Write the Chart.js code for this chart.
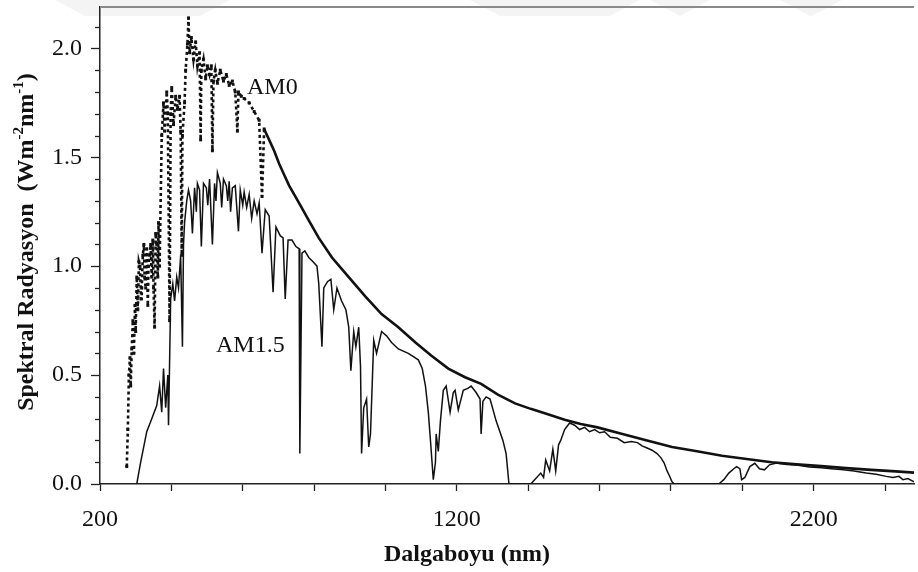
<!DOCTYPE html>
<html>
<head>
<meta charset="utf-8">
<script src="https://cdn.jsdelivr.net/npm/chart.js@4.4.1/dist/chart.umd.min.js"></script>
<style>
  html, body { margin: 0; padding: 0; background: #fff; }
  #wrap { position: relative; width: 918px; height: 572px; }
</style>
</head>
<body>
<div id="wrap"><canvas id="c"></canvas></div>
<script>
// Extraterrestrial spectrum (AM0): wavelength (nm) and spectral irradiance (W m-2 nm-1)
const am0Wavelength = [
  275, 278, 281, 284, 286, 289, 292, 295, 298, 300, 303, 306, 309, 312, 315, 317, 320, 323, 325, 328,
  331, 334, 336, 339, 342, 345, 348, 350, 353, 356, 359, 362, 364, 367, 373, 378, 381, 387, 390, 395,
  398, 401, 406, 412, 417, 423, 426, 429, 431, 437, 440, 445, 448, 451, 456, 462, 468, 473, 479, 482,
  484, 490, 496, 501, 507, 512, 515, 518, 523, 529, 537, 546, 554, 562, 571, 579, 585, 588, 596, 604,
  618, 632, 646, 654, 660, 674, 688, 702, 716, 730, 744, 758, 785, 813, 850, 897, 944, 989, 1036, 1084,
  1128, 1176, 1223, 1268, 1315, 1363, 1407, 1455, 1502, 1547, 1594, 1664, 1733, 1803, 1873, 1943, 2012, 2082, 2152, 2221,
  2291, 2361, 2430, 2481
];
const am0Irradiance = [
  0.08, 0.25, 0.50, 0.58, 0.45, 0.62, 0.75, 0.60, 0.82, 0.70, 0.95, 0.80, 1.02, 1.00, 0.85, 0.90, 1.05, 1.10, 0.95, 0.90,
  1.08, 0.82, 1.00, 1.05, 1.10, 0.95, 1.12, 0.90, 0.72, 1.15, 1.10, 0.95, 1.20, 1.00, 1.60, 1.75, 1.62, 1.80, 1.70, 0.75,
  1.70, 1.82, 1.65, 1.78, 1.72, 1.78, 1.62, 1.05, 1.60, 1.75, 1.90, 2.02, 2.14, 1.98, 2.05, 1.95, 2.03, 1.92, 1.98, 1.58,
  1.90, 1.95, 1.86, 1.92, 1.88, 1.92, 1.53, 1.85, 1.90, 1.84, 1.90, 1.85, 1.88, 1.83, 1.85, 1.80, 1.62, 1.80, 1.78, 1.77,
  1.75, 1.71, 1.67, 1.32, 1.63, 1.58, 1.53, 1.47, 1.42, 1.37, 1.33, 1.29, 1.21, 1.13, 1.04, 0.95, 0.86, 0.78, 0.72, 0.65,
  0.59, 0.53, 0.49, 0.46, 0.41, 0.37, 0.345, 0.32, 0.295, 0.275, 0.26, 0.23, 0.20, 0.17, 0.15, 0.13, 0.115, 0.10, 0.09, 0.082,
  0.073, 0.065, 0.058, 0.052
];

// Terrestrial spectrum (AM1.5): wavelength (nm) and spectral irradiance (W m-2 nm-1)
const am15Wavelength = [
  303, 314, 331, 345, 359, 367, 373, 378, 384, 390, 392, 398, 404, 409, 415, 420, 426, 431, 434, 437,
  443, 448, 454, 459, 465, 470, 473, 479, 484, 490, 498, 502, 507, 515, 521, 525, 529, 537, 541, 546,
  554, 558, 562, 566, 571, 579, 588, 593, 600, 604, 611, 618, 625, 632, 640, 646, 654, 663, 674, 685,
  693, 705, 713, 719, 727, 738, 749, 758, 760, 766, 774, 785, 797, 808, 813, 822, 827, 838, 847, 855,
  864, 877, 889, 897, 903, 911, 917, 925, 930, 933, 939, 947, 953, 958, 967, 975, 989, 1003, 1017, 1036,
  1064, 1092, 1103, 1112, 1120, 1126, 1134, 1140, 1142, 1148, 1154, 1162, 1170, 1181, 1190, 1195, 1204, 1218, 1232, 1240,
  1254, 1265, 1268, 1273, 1282, 1293, 1310, 1329, 1338, 1346, 1407, 1418, 1435, 1443, 1449, 1460, 1469, 1477, 1485, 1491,
  1502, 1516, 1530, 1544, 1558, 1572, 1586, 1600, 1614, 1630, 1650, 1669, 1689, 1706, 1719, 1733, 1747, 1761, 1772, 1781,
  1789, 1795, 1803, 1809, 1934, 1948, 1962, 1976, 1984, 1993, 1998, 2007, 2021, 2035, 2048, 2062, 2076, 2096, 2124, 2152,
  2188, 2221, 2249, 2283, 2313, 2347, 2375, 2403, 2422, 2439, 2450, 2464, 2481
];
const am15Irradiance = [
  0.00, 0.10, 0.24, 0.30, 0.36, 0.45, 0.33, 0.53, 0.35, 0.50, 0.27, 0.85, 0.92, 0.84, 0.95, 0.90, 1.05, 0.63, 1.10, 1.20,
  1.30, 1.35, 1.30, 1.15, 1.36, 1.25, 1.38, 1.35, 1.09, 1.38, 1.36, 1.28, 1.40, 1.10, 1.38, 1.30, 1.43, 1.38, 1.27, 1.40,
  1.37, 1.30, 1.39, 1.25, 1.36, 1.37, 1.16, 1.35, 1.28, 1.34, 1.27, 1.33, 1.22, 1.30, 1.24, 1.29, 1.06, 1.26, 1.23, 0.88,
  1.18, 1.14, 1.13, 0.85, 1.12, 1.12, 1.09, 1.08, 0.14, 1.06, 1.07, 1.04, 1.02, 1.00, 0.92, 0.63, 0.90, 0.93, 0.94, 0.80,
  0.90, 0.84, 0.80, 0.72, 0.52, 0.70, 0.63, 0.72, 0.54, 0.14, 0.35, 0.39, 0.17, 0.23, 0.66, 0.60, 0.70, 0.68, 0.65, 0.62,
  0.60, 0.57, 0.53, 0.45, 0.33, 0.20, 0.02, 0.10, 0.23, 0.15, 0.29, 0.43, 0.45, 0.33, 0.42, 0.43, 0.34, 0.43, 0.44, 0.45,
  0.42, 0.39, 0.23, 0.38, 0.40, 0.39, 0.29, 0.20, 0.14, 0.00, 0.00, 0.02, 0.05, 0.03, 0.11, 0.06, 0.16, 0.06, 0.18, 0.20,
  0.25, 0.28, 0.27, 0.25, 0.26, 0.24, 0.25, 0.235, 0.24, 0.215, 0.21, 0.19, 0.195, 0.19, 0.175, 0.165, 0.155, 0.14, 0.12, 0.096,
  0.06, 0.04, 0.01, 0.00, 0.00, 0.02, 0.05, 0.07, 0.08, 0.07, 0.02, 0.03, 0.08, 0.095, 0.07, 0.065, 0.088, 0.096, 0.09, 0.087,
  0.078, 0.075, 0.07, 0.065, 0.06, 0.05, 0.045, 0.035, 0.03, 0.035, 0.02, 0.025, 0.01
];

// Axis settings and labels
const xLabelledTicks = [200, 1200, 2200];
const seriesNames = ['AM0', 'AM1.5'];
const xTitle = 'Dalgaboyu (nm)';
const yTitleParts = [
  { text: 'Spektral Radyasyon  (Wm', sup: false },
  { text: '-2', sup: true },
  { text: 'nm', sup: false },
  { text: '-1', sup: true },
  { text: ')', sup: false }
];

const ink = '#111';
const serif = '"Liberation Serif", "Times New Roman", serif';
const dottedUntil = 670; // short-wavelength part of AM0 drawn as a dotted trace

const toPoints = (xs, ys) => xs.map((x, i) => ({ x, y: ys[i] }));

const decorPlugin = {
  id: 'decor',
  beforeDraw(chart) {
    const { ctx } = chart;
    ctx.save();
    ctx.fillStyle = '#fff';
    ctx.fillRect(0, 0, chart.width, chart.height);
    // faint slanted header bands
    ctx.fillStyle = 'rgba(0,0,0,0.045)';
    [[55, 230], [470, 640], [650, 710], [780, 842]].forEach(([a, b]) => {
      ctx.beginPath();
      ctx.moveTo(a, 0); ctx.lineTo(b, 0);
      ctx.lineTo(b - 30, 16); ctx.lineTo(a + 30, 16);
      ctx.closePath(); ctx.fill();
    });
    ctx.restore();
  },
  afterDraw(chart) {
    const { ctx, chartArea: area } = chart;
    const xs = chart.scales.x, ys = chart.scales.y;
    ctx.save();
    // top frame line
    ctx.strokeStyle = '#8a8a8a';
    ctx.lineWidth = 2;
    ctx.beginPath();
    ctx.moveTo(area.left, area.top);
    ctx.lineTo(area.right, area.top);
    ctx.stroke();
    // minor ticks on the y axis every 0.1
    ctx.strokeStyle = '#222';
    ctx.lineWidth = 1.3;
    for (let i = 1; i <= 21; i++) {
      if (i % 5 === 0) continue;
      const py = Math.round(ys.getPixelForValue(i / 10)) + 0.5;
      ctx.beginPath();
      ctx.moveTo(area.left - 5, py);
      ctx.lineTo(area.left, py);
      ctx.stroke();
    }
    // series labels
    ctx.fillStyle = ink;
    ctx.font = '24px ' + serif;
    ctx.textBaseline = 'alphabetic';
    ctx.textAlign = 'left';
    ctx.fillText(seriesNames[0], xs.getPixelForValue(612), ys.getPixelForValue(1.79));
    ctx.fillText(seriesNames[1], xs.getPixelForValue(525), ys.getPixelForValue(0.605));
    // x axis title
    ctx.font = 'bold 24px ' + serif;
    ctx.textAlign = 'center';
    ctx.fillText(xTitle, 467, 561);
    // y axis title with superscripts
    const big = 'bold 24px ' + serif, small = 'bold 15px ' + serif;
    let total = 0;
    yTitleParts.forEach(p => { ctx.font = p.sup ? small : big; total += ctx.measureText(p.text).width; });
    ctx.translate(33, 242);
    ctx.rotate(-Math.PI / 2);
    ctx.textAlign = 'left';
    let pos = -total / 2;
    yTitleParts.forEach(p => {
      ctx.font = p.sup ? small : big;
      ctx.fillText(p.text, pos, p.sup ? -10 : 0);
      pos += ctx.measureText(p.text).width;
    });
    ctx.restore();
  }
};

new Chart(document.getElementById('c'), {
  type: 'line',
  data: {
    datasets: [
      {
        label: seriesNames[0],
        data: toPoints(am0Wavelength, am0Irradiance),
        borderColor: ink,
        borderWidth: 2.6,
        pointStyle: 'rect',
        pointRadius: ctx => (ctx.raw && ctx.raw.x < dottedUntil ? 2.1 : 0),
        pointBackgroundColor: ink,
        pointBorderColor: ink,
        pointBorderWidth: 0,
        tension: 0,
        segment: {
          borderDash: ctx => (ctx.p1.parsed.x <= dottedUntil ? [3, 3] : undefined)
        }
      },
      {
        label: seriesNames[1],
        data: toPoints(am15Wavelength, am15Irradiance),
        borderColor: ink,
        borderWidth: 1.5,
        pointRadius: 0,
        tension: 0
      }
    ]
  },
  options: {
    responsive: true,
    maintainAspectRatio: false,
    animation: false,
    events: [],
    layout: { padding: { top: 7, left: 0, right: 0, bottom: 0 } },
    plugins: { legend: { display: false }, tooltip: { enabled: false } },
    scales: {
      x: {
        type: 'linear',
        min: 200,
        max: 2481,
        border: { color: '#222', width: 1.5 },
        grid: { drawOnChartArea: false, drawTicks: true, tickLength: 7, tickColor: '#222', tickWidth: 1.3 },
        ticks: {
          stepSize: 200,
          includeBounds: false,
          autoSkip: false,
          maxRotation: 0,
          padding: 14,
          color: ink,
          font: { family: serif, size: 24 },
          callback: v => (xLabelledTicks.includes(Math.round(v)) ? String(Math.round(v)) : '')
        },
        afterFit: s => { s.height = 88; s.paddingLeft = 0; s.paddingRight = 0; }
      },
      y: {
        min: 0,
        max: 2.19,
        border: { color: '#222', width: 1.5 },
        grid: { drawOnChartArea: false, drawTicks: true, tickLength: 9, tickColor: '#222', tickWidth: 1.3 },
        ticks: {
          stepSize: 0.5,
          includeBounds: false,
          padding: 9,
          color: ink,
          font: { family: serif, size: 24 },
          callback: v => v.toFixed(1)
        },
        afterFit: s => { s.width = 100; s.paddingTop = 0; s.paddingBottom = 0; }
      }
    }
  },
  plugins: [decorPlugin]
});
</script>
</body>
</html>
